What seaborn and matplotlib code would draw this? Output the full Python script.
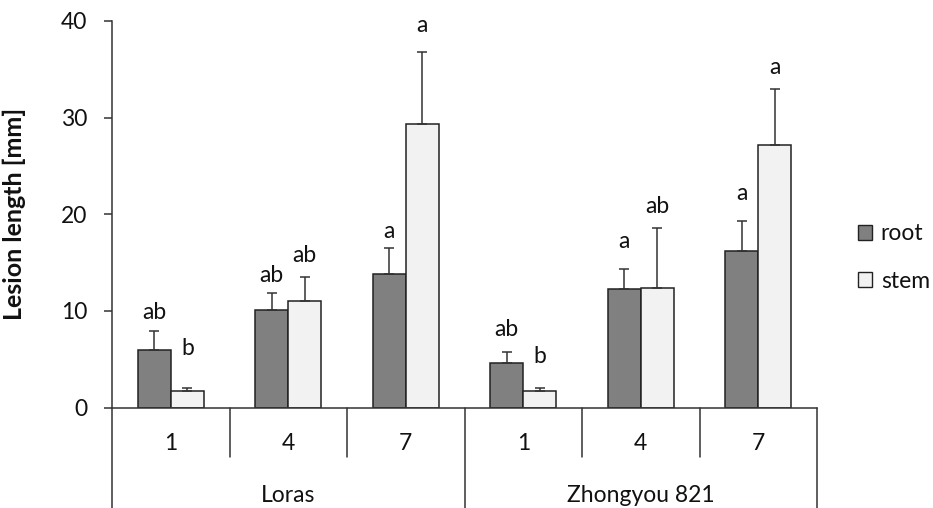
import matplotlib
matplotlib.use("Agg")
import matplotlib.pyplot as plt
from matplotlib.patches import Patch
from matplotlib.transforms import blended_transform_factory
import seaborn as sns
import pandas as pd

# ---- data ----
cultivars = ["Loras", "Zhongyou 821"]
days = ["1", "4", "7"]
tissues = ["root", "stem"]
root_mean = [6.0, 10.1, 13.8, 4.6, 12.3, 16.2]
root_err = [1.9, 1.8, 2.7, 1.1, 2.0, 3.1]
stem_mean = [1.75, 11.0, 29.35, 1.75, 12.4, 27.15]
stem_err = [0.28, 2.46, 7.48, 0.28, 6.15, 5.86]
root_letters = ["ab", "ab", "a", "ab", "a", "a"]
stem_letters = ["b", "ab", "a", "b", "ab", "a"]
root_letter_y = [9.13, 12.96, 17.5, 7.4, 16.48, 21.48]
stem_letter_y = [5.43, 15.09, 38.9, 4.57, 20.1, 34.5]
y_ticks = [0, 10, 20, 30, 40]
y_label = "Lesion length [mm]"

cats = [f"{c} {d}" for c in cultivars for d in days]
rows = []
for i, cat in enumerate(cats):
    rows.append({"cat": cat, "tissue": "root", "value": root_mean[i]})
    rows.append({"cat": cat, "tissue": "stem", "value": stem_mean[i]})
df = pd.DataFrame(rows)

sns.set_style("white")
plt.rcParams["font.family"] = ["Lato", "DejaVu Sans"]

FS = 16.5
line_c = "#333333"
txt_c = "#111111"
fig = plt.figure(figsize=(9.33, 5.08), dpi=100)
ax = fig.add_axes([112 / 933, 100.5 / 508, 705 / 933, 386.5 / 508])

palette = {"root": "#808080", "stem": "#F2F2F2"}
sns.barplot(data=df, x="cat", y="value", hue="tissue", order=cats,
            hue_order=tissues, palette=palette, width=0.565,
            edgecolor="#222222", linewidth=1.1, errorbar=None,
            legend=False, ax=ax, saturation=1)

errs = {"root": root_err, "stem": stem_err}
lets = {"root": root_letters, "stem": stem_letters}
lety = {"root": root_letter_y, "stem": stem_letter_y}
for cont, tis in zip(ax.containers, tissues):
    for i, bar in enumerate(cont):
        xc = bar.get_x() + bar.get_width() / 2
        h = bar.get_height()
        ax.errorbar([xc], [h], yerr=[[0], [errs[tis][i]]], fmt="none",
                    ecolor=line_c, elinewidth=1.1, capsize=3.3,
                    capthick=1.1, zorder=3)
        ax.text(xc, lety[tis][i], lets[tis][i], ha="center", va="baseline",
                fontsize=FS, color=txt_c)

ax.set_ylim(0, 40)
ax.set_xlim(-0.5, 5.5)
ax.set_yticks(y_ticks)
ax.set_xticks([])
ax.set_xlabel("")
ax.set_ylabel(y_label, fontsize=18, fontweight="bold", color=txt_c)
ax.yaxis.set_label_coords(-86 / 705, 0.5)
ax.tick_params(axis="y", direction="out", length=8 * 0.72, width=1.1,
               color=line_c, labelsize=FS, pad=12, left=True,
               labelcolor=txt_c)
for s in ["top", "right"]:
    ax.spines[s].set_visible(False)
for s in ["left", "bottom"]:
    ax.spines[s].set_color(line_c)
    ax.spines[s].set_linewidth(1.1)

# multi-level category axis
tr = blended_transform_factory(ax.transData, ax.transAxes)
inner_bottom = -(457 - 407.5) / 386.5
outer_bottom = -(508 - 407.5) / 386.5
n = len(cats)
for k in range(n + 1):
    xb = k - 0.5
    yb = outer_bottom if k % len(days) == 0 else inner_bottom
    ax.plot([xb, xb], [0, yb], transform=tr, color=line_c, lw=1.1,
            clip_on=False)
for i, cat in enumerate(cats):
    ax.text(i, -(443 - 407.5) / 386.5, days[i % len(days)], transform=tr,
            ha="center", va="center", fontsize=FS, color=txt_c)
for g, c in enumerate(cultivars):
    xc = g * len(days) + (len(days) - 1) / 2
    ax.text(xc, -(495 - 407.5) / 386.5, c, transform=tr, ha="center",
            va="center", fontsize=FS, color=txt_c)

handles = [Patch(facecolor=palette[t], edgecolor="#222222", linewidth=1.0,
                 label=t) for t in tissues]
fig.legend(handles=handles, loc="center left",
           bbox_to_anchor=(858 / 933, (508 - 257.5) / 508), frameon=False,
           fontsize=FS, handlelength=0.62, handleheight=0.62,
           handletextpad=0.37, labelspacing=1.15, borderpad=0,
           borderaxespad=0, labelcolor=txt_c)

fig.savefig("out.png", dpi=100)
